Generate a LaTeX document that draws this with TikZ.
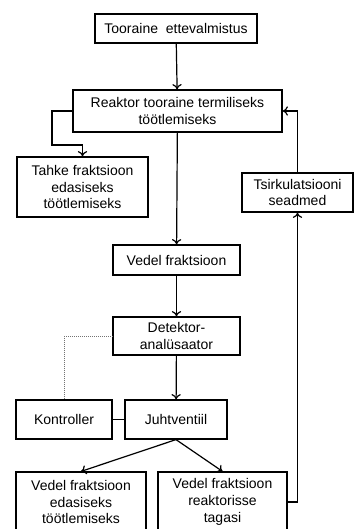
\documentclass[tikz,border=0pt]{standalone}
\usepackage{fontspec}
\setmainfont{Liberation Sans}
\usetikzlibrary{arrows.meta}

\tikzset{
  box/.style 2 args={draw, line width=0.9pt, align=center, inner sep=0pt,
    minimum width=#1*0.75pt, minimum height=#2*0.75pt,
    font=\fontsize{10.5}{12.5}\selectfont},
  flow/.style={line width=0.9pt, -{To[length=4pt, width=7pt]}},
  signal/.style={line width=0.5pt, black!55, densely dotted}
}

\begin{document}
\begin{tikzpicture}[x=0.75pt, y=-0.75pt]
  \useasboundingbox (0, 0) rectangle (355, 529);

  \node[box={162}{29}] (prep) at (176, 28.5) {Tooraine\ \ ettevalmistus};
  \node[box={209}{42}] (reactor) at (177.5, 111) {Reaktor tooraine termiliseks\\t\"o\"otlemiseks};
  \node[box={131}{60}] (solid) at (82.5, 187) {Tahke fraktsioon\\edasiseks\\t\"o\"otlemiseks};
  \node[box={111}{39}] (circ) at (297.5, 192.5) {Tsirkulatsiooni\\seadmed};

  \node[box={127}{30}] (liquid) at (176.5, 260) {Vedel fraktsioon};
  \node[box={127}{38}] (detector) at (176.5, 336) {Detektor-\\anal\"usaator};

  \node[box={96}{39}] (controller) at (64, 419.5) {Kontroller};
  \node[box={102}{39}] (valve) at (176, 419.5) {Juhtventiil};

  \node[box={130}{60}] (further) at (81, 502) {Vedel fraktsioon\\edasiseks\\t\"o\"otlemiseks};
  \node[box={129}{60}] (back) at (222.5, 502) {Vedel fraktsioon\\reaktorisse\\tagasi};

  \coordinate (sbend) at (52, 145);

  \draw[flow] (prep) -- (reactor);
  \draw[flow] (reactor.west) -| (sbend) -| (solid.north);
  \draw[flow] (reactor) -- (liquid);
  \draw[flow] (liquid) -- (detector);
  \draw[flow] (detector) -- (valve);
  \draw[signal] (detector.west) -| (controller.north);
  \draw[line width=0.9pt] (controller) -- (valve);

  \draw[flow] (valve.south) -- (further.north);
  \draw[flow] (valve.south) -- (back.north);

  % return loop
  \draw[flow] (back.east) -| (circ.south);
  \draw[flow] (circ.north) |- (reactor.east);

\end{tikzpicture}
\end{document}
